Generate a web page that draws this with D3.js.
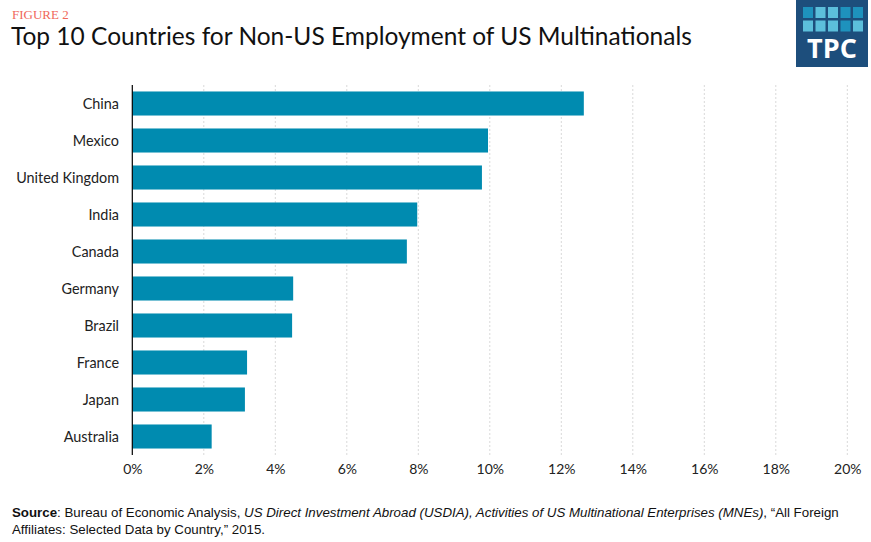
<!DOCTYPE html>
<html>
<head>
<meta charset="utf-8">
<script src="https://cdn.jsdelivr.net/npm/d3@7"></script>
<style>
  body { margin: 0; background: #fff; }
  svg { display: block; }
</style>
</head>
<body>
<svg id="chart" width="871" height="542"></svg>
<script>
// data
var countries = ["China", "Mexico", "United Kingdom", "India", "Canada", "Germany", "Brazil", "France", "Japan", "Australia"];
var shares = [12.63, 9.95, 9.78, 7.97, 7.68, 4.50, 4.47, 3.21, 3.15, 2.22];
var xTicks = [0, 2, 4, 6, 8, 10, 12, 14, 16, 18, 20];
var logoTiles = [
  ["dark", "light", "light", "dark", "dark"],
  ["light", "light", "light", "dark", "light"]
];

var svg = d3.select("#chart");
var font = "Lato, 'Open Sans', sans-serif";
var srcFont = "'Liberation Sans', sans-serif";

// header
svg.append("text")
    .attr("x", 12).attr("y", 19)
    .style("font-family", "'Liberation Serif', serif")
    .style("font-size", "13px")
    .style("fill", "#f0685a")
    .text("FIGURE 2");

svg.append("text")
    .attr("x", 11).attr("y", 45)
    .style("font-family", font)
    .style("font-size", "24.5px")
    .style("fill", "#111")
    .text("Top 10 Countries for Non-US Employment of US Multinationals");

// logo
var logo = svg.append("g");
logo.append("rect")
    .attr("x", 796).attr("y", 0).attr("width", 72).attr("height", 67)
    .style("fill", "#1d4e7c");
logoTiles.forEach(function(row, r) {
  row.forEach(function(t, c) {
    logo.append("rect")
        .attr("x", 803 + c * 12.5).attr("y", 7 + r * 13.5)
        .attr("width", 10).attr("height", 11)
        .style("fill", t === "dark" ? "#1e92bd" : "#5cbfdb");
  });
});
logo.append("text")
    .attr("x", 832).attr("y", 58)
    .attr("text-anchor", "middle")
    .style("font-family", "'Open Sans', sans-serif")
    .style("font-weight", "bold")
    .style("font-size", "27px")
    .style("fill", "#fff")
    .text("TPC");

// scales
var x = d3.scaleLinear().domain([0, 20]).range([132.3, 847.3]);
var y = d3.scaleBand().domain(countries).range([85, 455])
    .paddingInner(0.35).paddingOuter(0.175);

// grid lines
svg.append("g")
    .selectAll("line")
    .data(xTicks.slice(1))
    .enter().append("line")
      .attr("x1", function(d) { return x(d); })
      .attr("x2", function(d) { return x(d); })
      .attr("y1", 85).attr("y2", 455)
      .style("stroke", "#d9d9d9")
      .style("stroke-width", 1)
      .style("stroke-dasharray", "2,2");

// bars
svg.append("g")
    .selectAll("rect")
    .data(countries)
    .enter().append("rect")
      .attr("x", x(0))
      .attr("y", function(d) { return y(d); })
      .attr("width", function(d, i) { return x(shares[i]) - x(0); })
      .attr("height", y.bandwidth())
      .style("fill", "#008bb0");

// y axis line
svg.append("line")
    .attr("x1", x(0)).attr("x2", x(0))
    .attr("y1", 85).attr("y2", 455)
    .style("stroke", "#000").style("stroke-width", 1.2);

// category labels
svg.append("g")
    .selectAll("text")
    .data(countries)
    .enter().append("text")
      .attr("x", 119)
      .attr("y", function(d) { return y(d) + y.bandwidth() / 2; })
      .attr("dy", "0.35em")
      .attr("text-anchor", "end")
      .style("font-family", font)
      .style("font-size", "14.4px")
      .style("fill", "#222")
      .text(function(d) { return d; });

// x axis
var xAxis = svg.append("g")
    .attr("transform", "translate(0,455)")
    .call(d3.axisBottom(x).tickValues(xTicks)
      .tickFormat(function(d) { return d + "%"; })
      .tickSize(0).tickPadding(9));
xAxis.select(".domain").remove();
xAxis.selectAll("text")
    .style("font-family", font)
    .style("font-size", "14px")
    .style("fill", "#222");

// source
var src = svg.append("text")
    .attr("x", 12).attr("y", 517)
    .style("font-family", srcFont)
    .style("font-size", "13.3px")
    .style("fill", "#111");
src.append("tspan").style("font-weight", "bold").text("Source");
src.append("tspan").text(": Bureau of Economic Analysis, ");
src.append("tspan").style("font-style", "italic").text("US Direct Investment Abroad (USDIA), Activities of US Multinational Enterprises (MNEs)");
src.append("tspan").text(", \u201cAll Foreign");

svg.append("text")
    .attr("x", 12).attr("y", 534)
    .style("font-family", srcFont)
    .style("font-size", "13.3px")
    .style("fill", "#111")
    .text("Affiliates: Selected Data by Country,\u201d 2015.");
</script>
</body>
</html>
